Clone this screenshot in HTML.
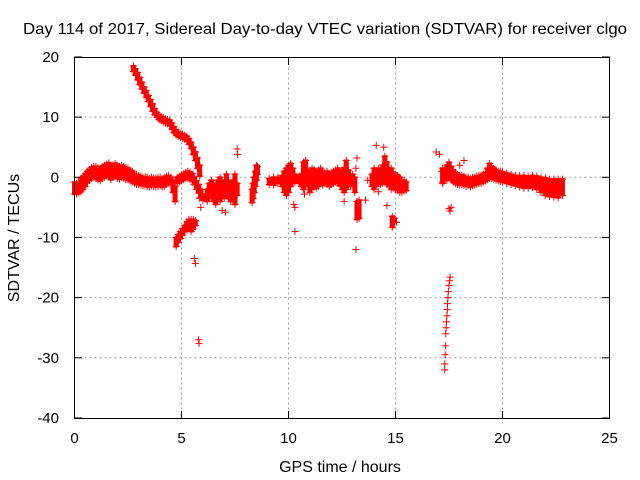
<!DOCTYPE html>
<html><head><meta charset="utf-8"><style>
html,body{margin:0;padding:0;background:#fff;}
svg{display:block;font-family:"Liberation Sans",Arial,sans-serif;}
</style></head><body>
<svg id="chart" width="640" height="480" viewBox="0 0 640 480">
<text x="325" y="34" font-size="16" text-anchor="middle" fill="#000" textLength="604" lengthAdjust="spacingAndGlyphs">Day 114 of 2017, Sidereal Day-to-day VTEC variation (SDTVAR) for receiver clgo</text>
<text transform="translate(19,238) rotate(-90)" font-size="16" text-anchor="middle">SDTVAR / TECUs</text>
<text x="340" y="472" font-size="16" text-anchor="middle">GPS time / hours</text>
<g id="grid"></g>
<g id="marks"></g>
<rect x="74.5" y="57.5" width="535" height="361" fill="none" stroke="#000" stroke-width="1"/>
</svg>
<script>
const xTicks = [0,5,10,15,20,25];
const yTicks = [20,10,0,-10,-20,-30,-40];
// band samples: hour, low value, high value
const bandHours = [0,0.1,0.2,0.3,0.4,0.5,0.6,0.7,0.8,0.9,1,1.1,1.2,1.3,1.4,1.5,1.6,1.7,1.8,1.9,2,2.1,2.2,2.3,2.4,2.5,2.6,2.7,2.8,2.9,3,3.1,3.2,3.3,3.4,3.5,3.6,3.7,3.8,3.9,4,4.1,4.2,4.3,4.4,4.5,4.6,4.7,4.8,4.9,5,5.1,5.2,5.3,5.4,5.5,5.6,5.7,5.8,5.9,6,
2.75,2.85,2.95,3.05,3.15,3.25,3.35,3.45,3.55,3.65,3.75,3.85,3.95,4.05,4.15,4.25,4.35,4.45,4.55,4.65,4.75,4.85,4.95,5.05,5.15,5.25,5.35,5.45,5.55,5.65,5.75,5.85,
4.75,4.85,4.95,5.05,5.15,5.25,5.35,5.45,5.55,5.65,
6.2,6.3,6.4,6.5,6.6,6.7,6.8,6.9,7,7.1,7.2,7.3,7.4,7.5,7.6,8.3,8.35,8.4,8.45,8.5,8.55,
9.1,9.3,9.5,9.7,9.8,9.9,10,10.1,10.2,10.3,10.5,10.6,10.7,10.8,10.9,11,11.1,11.2,11.3,11.4,11.5,11.6,11.7,11.8,11.9,12,12.1,12.2,12.3,12.4,12.5,12.6,12.7,12.8,12.9,13,13.1,13.2,13.3,
13.9,14,14.1,14.2,14.3,14.4,14.5,14.6,14.7,14.8,14.9,15,15.1,15.2,15.3,15.4,15.5,14.85,14.95,
17.2,17.4,17.5,17.6,17.7,17.8,17.9,18,18.1,18.2,18.3,18.4,18.5,18.6,18.7,18.8,18.9,19,19.1,19.2,19.3,19.4,19.5,19.6,19.7,19.8,19.9,20,20.2,20.4,20.6,20.8,21,21.2,21.4,21.6,21.8,22,22.2,22.4,22.6,22.8];
const bandLow = [-2.8,-2.8,-2.6,-2.4,-2,-1.5,-0.9,-0.5,-0.2,0,-0.2,-0.4,-0.6,-0.2,0,0.2,0,-0.4,0,0.2,-0.2,-0.3,0,-0.2,-0.4,-0.4,-0.6,-0.8,-1,-1.2,-1.2,-1.3,-1.4,-1.4,-1.5,-1.6,-1.4,-1.5,-1.6,-1.5,-1.4,-1.6,-1.5,-1.2,-1,-1.2,-2.5,-4,-1,-0.8,-0.6,-0.4,-0.2,-0.2,-0.4,-0.6,-1.2,-2,-2.6,-3.3,-3.8,
17.6,17,16.2,15.4,14.7,14,13.3,12.6,11.8,11,10.4,10,9.6,9.4,9.2,9,8.9,8.6,8,7.4,7,6.8,6.6,6.5,6.3,6,5.5,4.8,3.8,2.8,1.5,0.2,
-11.5,-10.8,-10.2,-9.6,-9,-8.8,-8.5,-9,-8.6,-8,
-4,-3.5,-3,-4,-4.5,-3.5,-4,-3,-3.5,-2.5,-3.5,-4,-3.5,-4.5,-3,-4.2,-3.5,-2.5,-1.5,-0.5,0.5,
-1.2,-1.3,-1,-1.5,-2.5,-3,-2.5,-1.5,-1,-0.8,-1,-1.5,-2,-1.5,-1.2,-2.5,-2,-1.5,-1.8,-1.5,-1,-1.3,-1,-1.2,-1.5,-1.2,-1,-0.8,-1,-1.4,-2,-2.5,-2,-1.5,-1.5,-1,-2.5,-7,-6.8,
-1.5,-2,-1.5,-1,-1.2,-1,-0.8,-1.2,-1.5,-2,-1.8,-2,-2.2,-2.5,-2.5,-2.3,-2.2,-8.3,-7.5,
-1,-0.5,0,-0.5,-0.8,-1,-1.2,-1.3,-1.2,-1.3,-1.5,-1.4,-1.6,-1.4,-1.3,-1.2,-1,-1,-0.8,-0.6,-0.4,-0.2,-0.2,-0.3,-0.5,-0.6,-0.7,-0.8,-1,-1.2,-1.4,-1.6,-1.8,-1.8,-1.7,-2,-2.5,-3,-3.2,-3.3,-3.4,-3];
const bandHigh = [-0.8,-1,-0.8,-0.3,0.2,0.6,1,1.3,1.6,1.8,1.8,1.6,1.5,1.8,2,2.2,2.4,2,2,2.3,2,1.8,2,1.8,1.6,1.5,1.2,1,0.6,0.5,0.3,0.2,0,0.1,0,-0.2,0,-0.1,-0.2,0,0,-0.2,0,0.2,0.3,0,-0.5,-1.5,0,0.2,0.4,0.6,0.8,1,0.9,0.6,0,-0.6,-1.2,-2,-2.8,
18.5,18,17.4,16.6,15.8,15,14.4,13.6,12.9,12.2,11.4,10.8,10.4,10.1,9.9,9.7,9.6,9.5,9,8.4,7.9,7.5,7.3,7.2,7,6.8,6.4,5.8,5,4.2,3.2,2,
-10,-9.5,-9,-8.5,-8,-7.4,-7,-7,-7,-7.2,
-2,-1,-0.5,-1,-1.5,-0.5,0,-0.5,-1,0.5,-0.5,-1,-0.5,0.5,-1,-2,-1,0,1,2,1.8,
-0.2,0,0,0.3,1,1.5,2,2.3,1.5,0.5,0.2,0.5,2.5,2.8,1,1.2,1.5,1.3,1,1.2,1.5,1,0.8,1,0.6,0.8,1,1.2,1.5,1,1.2,1.6,2.8,1.2,0.5,0.5,0,-4,-3.8,
0.5,1.5,1,1.5,1,2,3.5,2.5,1.5,1.5,0.8,0.5,0.3,0,-0.5,-0.5,-0.8,-6.5,-6.8,
1.5,2,2.5,1.8,1.2,0.8,0.5,0.3,0.4,0.2,0,0,-0.2,0,0,0.2,0.3,0.3,0.5,0.8,1.5,2.3,1.8,1.5,1.2,1,1,0.9,0.7,0.5,0.3,0.3,0.3,0.2,0.3,0.2,0,-0.1,-0.3,-0.3,-0.3,-0.3];
// isolated points
const scatterHours = [5.6,5.65,5.8,5.82,5.9,5.85,7.6,7.62,6.9,7.05,10.25,10.3,10.3,10.75,12.6,13.15,13.15,13.2,13.6,13.7,14.1,14.45,14.6,14.2,15.05,16.9,17.05,17.15,17.2,17.5,17.55,17.6,18.2,18,
17.3,17.3,17.32,17.33,17.35,17.37,17.38,17.4,17.42,17.43,17.45,17.47,17.5,17.53,17.55];
const scatterValues = [-13.5,-14.3,-27,-27.6,-5,-3.5,4.7,3.8,-5.5,-5.8,-4.5,-5,-9,-2.8,-4,-12,1.5,3.2,-3.8,-0.5,5.3,5,-4.7,-2.4,-7.5,4.2,3.8,1,-0.8,-5.2,-5.6,-5,2.8,2,
-32,-31,-29.5,-28,-26,-25,-24,-23,-22,-21,-20,-19,-18,-17.2,-16.6];

const X = t => 74.5 + 21.4 * t;
const Y = v => 177.3 - 6.017 * v;
const NS = 'http://www.w3.org/2000/svg';
const grid = document.getElementById('grid');
const marks = document.getElementById('marks');
function mk(tag, attrs, parent){ const e=document.createElementNS(NS,tag); for(const k in attrs) e.setAttribute(k,attrs[k]); parent.appendChild(e); return e; }

xTicks.forEach(t=>{
  const x=X(t);
  if(t>0&&t<25){ const g=mk('line',{x1:x,y1:57.5,x2:x,y2:418.5,stroke:'#a0a0a0','stroke-dasharray':'2,3'},grid);
    
     }
  mk('line',{x1:x,y1:418.5,x2:x,y2:411,stroke:'#000'},grid);
  mk('line',{x1:x,y1:57.5,x2:x,y2:65,stroke:'#000'},grid);
  const l=mk('text',{x:x,y:443,'font-size':15,'text-anchor':'middle'},grid); l.textContent=t;
  
  
});
yTicks.forEach(v=>{
  const y=Y(v);
  if(v<20&&v>-40){ const g=mk('line',{x1:74.5,y1:y,x2:609.5,y2:y,stroke:'#a0a0a0','stroke-dasharray':'2,3'},grid);
    
     }
  mk('line',{x1:74.5,y1:y,x2:82,y2:y,stroke:'#000'},grid);
  mk('line',{x1:609.5,y1:y,x2:602,y2:y,stroke:'#000'},grid);
  const l=mk('text',{x:59,y:y+5,'font-size':15,'text-anchor':'end'},grid); l.textContent=v;
  
  
});
function cross(t,v){
  const x=X(t), y=Y(v);
  const p=mk('path',{d:`M${x-3.5},${y}H${x+3.5}M${x},${y-3.5}V${y+3.5}`,stroke:'#f00','stroke-width':1,fill:'none'},marks);
  
  
}
bandHours.forEach((t,i)=>{
  const x=X(t), y1=Y(bandHigh[i]), y2=Y(bandLow[i]);
  const r=mk('rect',{x:x-2.5,y:y1-1,width:5,height:Math.max(2,y2-y1+2),fill:'#f00'},marks);
  
  
  cross(t,bandHigh[i]); cross(t,bandLow[i]);
});
scatterHours.forEach((t,i)=>cross(t,scatterValues[i]));
</script>
</body></html>
